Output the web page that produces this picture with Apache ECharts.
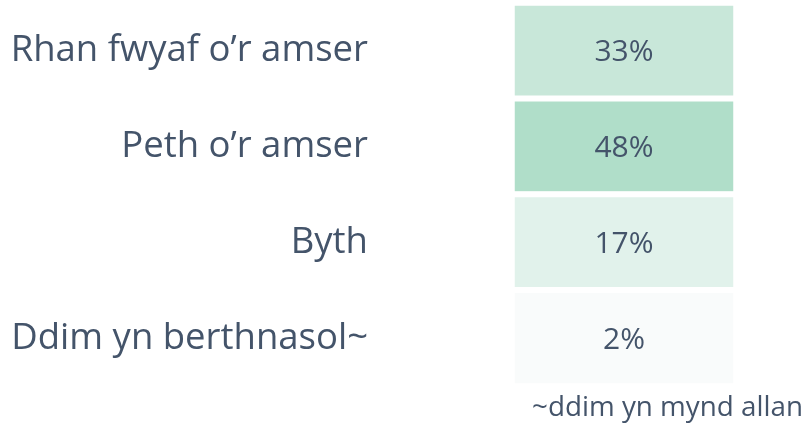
<!DOCTYPE html>
<html>
<head>
<meta charset="utf-8">
<script src="https://cdn.jsdelivr.net/npm/echarts@6/dist/echarts.min.js"></script>
<style>
  html, body { margin: 0; padding: 0; background: #fff; }
  #chart { width: 810px; height: 427px; }
</style>
</head>
<body>
<div id="chart"></div>
<script>
// answers (top to bottom) and share of respondents
const answers = ['Rhan fwyaf o’r amser', 'Peth o’r amser', 'Byth', 'Ddim yn berthnasol~'];
const shares = [33, 48, 17, 2];
const columns = [''];
const footnote = '~ddim yn mynd allan';

const textColor = '#44546a';
const font = 'Open Sans';
const chart = echarts.init(document.getElementById('chart'));

const cells = shares.map((v, i) => [0, i, v]);

chart.setOption({
    animation: false,
    textStyle: { fontFamily: font },
    title: {
        text: footnote,
        right: 2,
        top: 389,
        textStyle: { color: textColor, fontSize: 27.8, fontWeight: 'normal', fontFamily: font }
    },
    grid: { left: 512, top: 3, width: 224, height: 383 },
    xAxis: {
        type: 'category',
        data: columns,
        show: false
    },
    yAxis: {
        type: 'category',
        data: answers,
        inverse: true,
        axisLine: { show: false },
        axisTick: { show: false },
        splitLine: { show: false },
        axisLabel: { color: textColor, fontSize: 36.5, margin: 144, padding: [6, 0, 0, 0] }
    },
    visualMap: {
        show: false,
        min: 2,
        max: 48,
        dimension: 2,
        inRange: { color: ['#f9fbfb', '#b0dec9'] }
    },
    series: [{
        type: 'heatmap',
        data: cells,
        itemStyle: { borderColor: '#fff', borderWidth: 6 },
        label: {
            show: true,
            color: textColor,
            fontSize: 30,
            offset: [0, 2],
            formatter: p => p.value[2] + '%'
        }
    }]
});
</script>
</body>
</html>
